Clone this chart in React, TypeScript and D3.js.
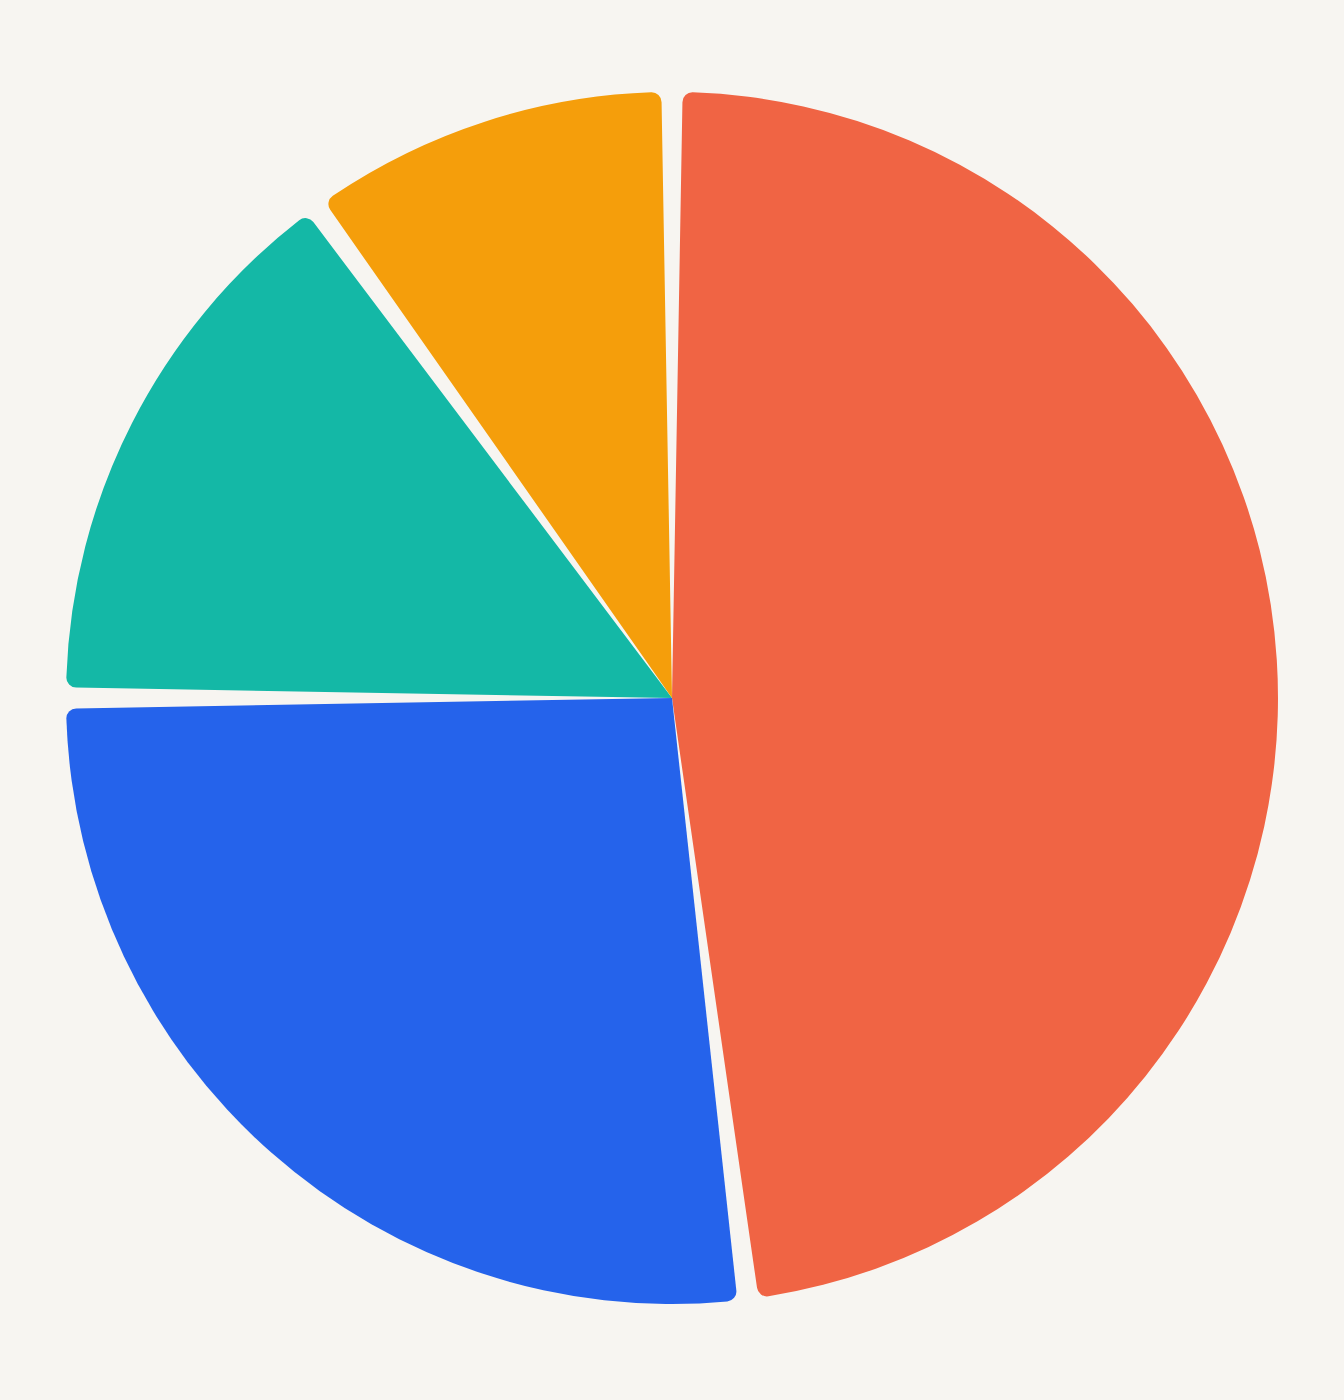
import * as d3 from 'd3';

const W = 1344, H = 1400;
const CX = 672, CY = 698, R = 606;

const LABELS = ['A', 'B', 'C', 'D'];
const VALUES = [48, 27, 15, 10];
const COLORS = ['#f06444', '#2563eb', '#14b8a6', '#f59e0b'];

export default function App() {
  // slice edges sit at the exact value fractions; the gap is cut from each slice by the arc
  const pie = d3.pie<number>().sort(null)(VALUES);
  const arc = d3.arc<d3.PieArcDatum<number>>()
    .innerRadius(0)
    .outerRadius(R)
    .cornerRadius(10)
    .padAngle(0.035);

  return (
    <div style={{ position: 'absolute', top: 0, left: 0, width: W, height: H, background: '#f7f5f1' }}>
      <svg width={W} height={H} style={{ display: 'block' }}>
        <g transform={`translate(${CX},${CY})`}>
          {pie.map((d, i) => (
            <path key={LABELS[i]} d={arc(d) ?? ''} fill={COLORS[i]} />
          ))}
        </g>
      </svg>
    </div>
  );
}
